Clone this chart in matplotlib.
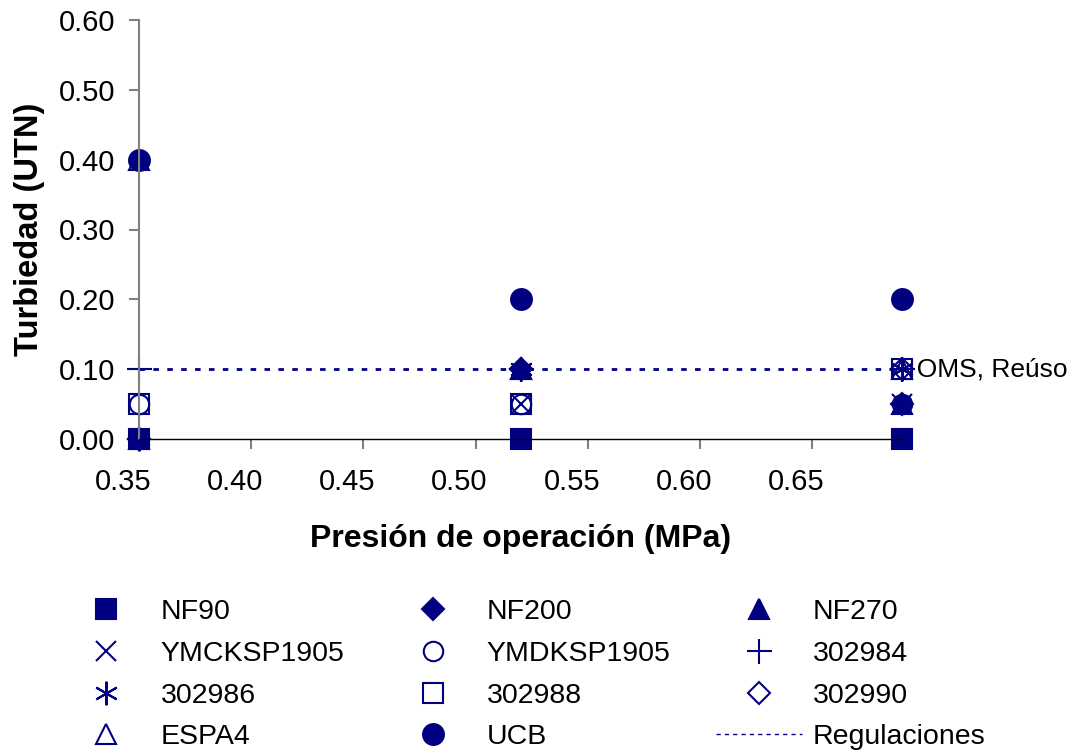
import matplotlib
matplotlib.use("Agg")
from matplotlib import pyplot as plt
from matplotlib.lines import Line2D
from matplotlib.transforms import ScaledTranslation

plt.rcParams["font.family"] = ["Liberation Sans", "DejaVu Sans"]

# presión de operación (MPa)
presion = [0.35, 0.52, 0.69]

# turbiedad (UTN) por membrana
nf90 = [0.00, 0.00, 0.00]
nf200 = [0.00, 0.10, 0.05]
nf270 = [0.00, 0.10, 0.05]
ymcksp1905 = [0.00, 0.05, 0.05]
ymdksp1905 = [0.05, 0.05, 0.05]
m302984 = [0.10, 0.10, 0.10]
m302986 = [0.00, 0.10, 0.10]
m302988 = [0.05, 0.05, 0.10]
m302990 = [0.00, 0.10, 0.10]
espa4 = [0.40, 0.10, 0.10]
ucb = [0.40, 0.20, 0.20]

regulacion = 0.10
regulacion_label = "OMS, Reúso"

navy = "#000080"

series = [
    ("NF90", nf90, "s", True, 14),
    ("NF200", nf200, "D", True, 11),
    ("NF270", nf270, "^", True, 14),
    ("YMCKSP1905", ymcksp1905, "x", False, 15),
    ("YMDKSP1905", ymdksp1905, "o", False, 14),
    ("302984", m302984, "+", False, 18),
    ("302986", m302986, (6, 2, 0), False, 17),
    ("302988", m302988, "s", False, 14),
    ("302990", m302990, "D", False, 11),
    ("ESPA4", espa4, "^", False, 14),
    ("UCB", ucb, "o", True, 15),
]

fig = plt.figure(figsize=(10.76, 7.52), dpi=100)
ax = fig.add_axes([139 / 1076, 1 - 439 / 752, (902 - 139) / 1076, (439 - 20) / 752])

handles = {}
for name, vals, mk, filled, ms in series:
    h, = ax.plot(presion, vals, linestyle="none", marker=mk, markersize=ms,
                 color=navy, markerfacecolor=navy if filled else "none",
                 markeredgecolor=navy, markeredgewidth=1.5, clip_on=False,
                 label=name)
    handles[name] = h

ax.plot([presion[0], presion[-1]], [regulacion, regulacion], color=navy,
        linestyle=(0, (2, 3)), linewidth=2, zorder=1)
ax.text(presion[-1], regulacion, "  " + regulacion_label, fontsize=19,
        va="center", ha="left")

ax.set_xlim(0.35, 0.69)
ax.set_ylim(0, 0.6)
ax.set_xticks([0.35, 0.40, 0.45, 0.50, 0.55, 0.60, 0.65])
ax.set_xticklabels(["0.35", "0.40", "0.45", "0.50", "0.55", "0.60", "0.65"])
ax.set_yticks([0, 0.1, 0.2, 0.3, 0.4, 0.5, 0.6])
ax.set_yticklabels(["0.00", "0.10", "0.20", "0.30", "0.40", "0.50", "0.60"])
ax.tick_params(axis="both", labelsize=21, length=7, width=1.5, color="#808080",
               direction="out")
ax.tick_params(axis="y", pad=10)
ax.tick_params(axis="x", pad=14)
for lbl in ax.get_xticklabels():
    lbl.set_transform(lbl.get_transform() + ScaledTranslation(-0.16, 0, fig.dpi_scale_trans))

for s in ["top", "right"]:
    ax.spines[s].set_visible(False)
ax.spines["left"].set_color("#808080")
ax.spines["left"].set_linewidth(1.5)
ax.spines["bottom"].set_color("black")
ax.spines["bottom"].set_linewidth(1)

ax.set_xlabel("Presión de operación (MPa)", fontsize=23, fontweight="bold", labelpad=20)
ax.set_ylabel("Turbiedad (UTN)", fontsize=23.5, fontweight="bold", labelpad=10)

reg_handle = Line2D([], [], color=navy, linestyle=(0, (3, 3)), linewidth=1)
orden = ["NF90", "YMCKSP1905", "302986", "ESPA4",
         "NF200", "YMDKSP1905", "302988", "UCB",
         "NF270", "302984", "302990"]
leg_handles = [handles[n] for n in orden] + [reg_handle]
leg_labels = orden + ["Regulaciones"]
fig.legend(leg_handles, leg_labels, ncol=3, loc="upper left",
           bbox_to_anchor=(38 / 1076, 1 - 573 / 752), frameon=False,
           fontsize=20.5, handlelength=3.0, handletextpad=0.4,
           columnspacing=1.6, labelspacing=0.56, markerscale=1.0)

fig.savefig("out.png", dpi=100)
